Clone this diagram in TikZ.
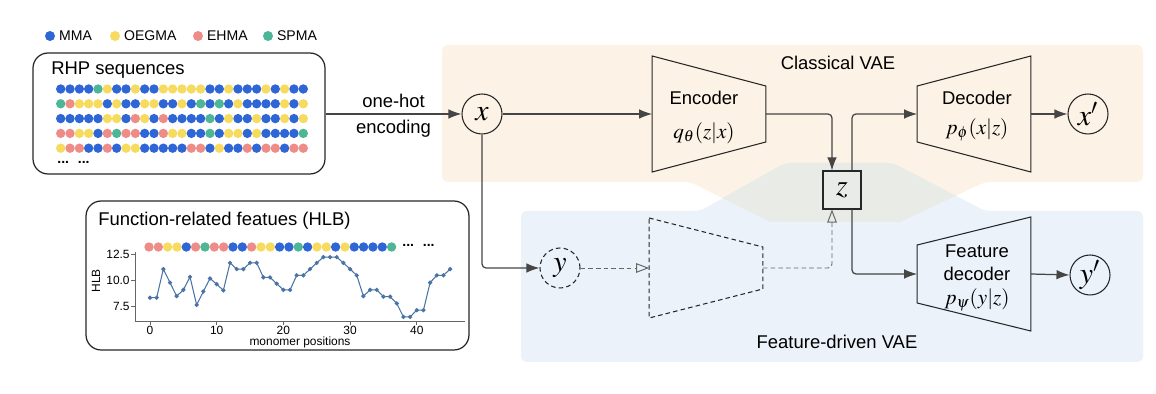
\documentclass[tikz,border=0pt]{standalone}
\usepackage{mathptmx}
\usepackage[no-math]{fontspec}
\setmainfont{Liberation Sans}
\usetikzlibrary{arrows.meta,positioning,shapes.geometric,calc}
\definecolor{monoblue}{HTML}{2F66D5}
\definecolor{monoyellow}{HTML}{F6DB5E}
\definecolor{monopink}{HTML}{EE8D87}
\definecolor{monogreen}{HTML}{4DB697}
\definecolor{vaeorange}{HTML}{FCF2E5}
\definecolor{vaeblue}{HTML}{EBF2FA}
\definecolor{vaeboth}{HTML}{E9EBE7}
\definecolor{linegray}{HTML}{454545}
\definecolor{hlbline}{HTML}{4A74A6}
\colorlet{mB}{monoblue}
\colorlet{mY}{monoyellow}
\colorlet{mE}{monopink}
\colorlet{mG}{monogreen}
\newcommand{\mainfs}{\fontsize{10.5}{12.6}\selectfont}
\newcommand{\legfs}{\fontsize{8}{9.6}\selectfont}
\newcommand{\plotfs}{\fontsize{6.8}{8}\selectfont}
\newcommand{\fnfs}{\fontsize{12}{14}\selectfont}
\newcommand{\bigmath}{\fontsize{17}{20}\selectfont}
\newcommand{\monorow}[3]{\foreach \mcol [count=\i from 0] in {#3} \fill[m\mcol] ({#1+9.33*\i},#2) circle (4.7);}
\newcommand{\trapez}[4][]{\draw[trapline,#1] ($(#2.west)+(0,-#3)$) -- ($(#2.east)+(0,-#4)$) -- ($(#2.east)+(0,#4)$) -- ($(#2.west)+(0,#3)$) -- cycle;}

\begin{document}
\begin{tikzpicture}[x=0.02cm,y=-0.02cm,
    conn/.style={draw=linegray, line width=0.7pt, rounded corners=0.08cm, -{Latex[length=0.26cm,width=0.19cm]}},
    dconn/.style={conn, draw=black!60, line width=0.55pt, dash pattern=on 2.6pt off 1.8pt, -{Triangle[open,length=0.26cm,width=0.19cm]}},
    var/.style={circle, draw=black!85, line width=0.6pt, minimum size=0.8cm, inner sep=0pt, font=\bigmath},
    trapbox/.style={minimum width=2.26cm, minimum height=0pt, inner sep=0pt},
    trapline/.style={draw=black!85, line width=0.6pt},
    panel/.style={draw=black!85, line width=0.7pt, rounded corners=0.3cm, inner sep=0pt},
    axisgray/.style={draw=black!60, line width=0.4pt}]
  \useasboundingbox (0,0) rectangle (1156,394);

  % VAE regions
  \fill[vaeorange, rounded corners=0.12cm] (442,45) -- (1143,45) -- (1143,182) -- (985,182) -- (900,222) -- (770,222) -- (690,182) -- (442,182) -- cycle;
  \fill[vaeblue, rounded corners=0.12cm] (521,211) -- (700,211) -- (785,163) -- (893,163) -- (985,211) -- (1143,211) -- (1143,362) -- (521,362) -- cycle;
  \begin{scope}
    \clip (442,45) -- (1143,45) -- (1143,182) -- (985,182) -- (900,222) -- (770,222) -- (690,182) -- (442,182) -- cycle;
    \fill[vaeboth, rounded corners=0.12cm] (521,211) -- (700,211) -- (785,163) -- (893,163) -- (985,211) -- (1143,211) -- (1143,362) -- (521,362) -- cycle;
  \end{scope}
  \node[font=\mainfs] (classlab) at (838,63) {Classical VAE};
  \node[font=\mainfs] (featlab) at (837,342) {Feature-driven VAE};

  % legend
  \foreach \mono/\col/\xx in {MMA/monoblue/50,OEGMA/monoyellow/115,EHMA/monopink/198,SPMA/monogreen/268}{
    \fill[\col] (\xx,36) circle (5);
    \node[anchor=west, inner sep=1pt, font=\legfs] (leg\mono) at (\xx+7,36) {\mono};
  }

  % RHP sequences
  \node[panel, minimum width=5.84cm, minimum height=2.42cm] (rhp) at (179,113.5) {};
  \node[anchor=west, inner sep=0pt, font=\mainfs] (rhptitle) at (51,70) {RHP sequences};
  \monorow{60.7}{89}{B,B,B,B,G,Y,B,B,Y,B,B,Y,Y,Y,Y,Y,B,B,Y,B,B,B,Y,B,Y,B,B}
  \monorow{60.7}{103.8}{G,E,Y,Y,Y,B,Y,B,B,Y,Y,B,B,Y,B,G,B,G,B,Y,B,B,B,B,Y,B,Y}
  \monorow{60.7}{118.6}{B,B,B,B,B,Y,Y,B,E,Y,B,E,B,B,B,B,G,B,Y,B,B,Y,B,B,Y,B,Y}
  \monorow{60.7}{133.4}{E,E,Y,Y,B,E,G,E,E,B,B,E,Y,Y,B,B,G,B,Y,Y,B,Y,B,B,B,B,G}
  \monorow{60.7}{148.2}{Y,E,E,B,B,E,B,Y,Y,B,B,B,B,B,E,E,B,Y,B,B,E,B,E,E,B,E,E}
  \node[anchor=west, inner sep=0pt, font=\legfs\bfseries] (rhpdots) at (57,162) {...\hspace{5pt}...};

  % HLB panel
  \node[panel, minimum width=7.66cm, minimum height=2.98cm] (hlb) at (277.5,275.5) {};
  \node[anchor=west, inner sep=0pt, font=\mainfs] (hlbtitle) at (98,221) {Function-related featues (HLB)};
  \monorow{149}{247}{E,E,Y,Y,B,E,G,E,E,B,B,E,Y,Y,B,B,G,B,Y,Y,B,Y,B,B,B,B,G}
  \node[anchor=west, inner sep=0pt, font=\legfs\bfseries] (hlbdots) at (402,245) {...\hspace{5pt}...};
  \begin{scope}[shift={(150,384)},x=0.1334cm,y=0.208cm]
    \draw[axisgray] (-2.25,6.06) -- (47.2,6.06);
    \draw[axisgray] (-2.25,6.06) -- (-2.25,12.65);
    \foreach \v in {7.5,10.0,12.5}{
      \draw[axisgray] (-2.25,\v) -- ++(-2.5pt,0);
      \node[anchor=east, inner sep=0pt, font=\plotfs] at (-3,\v) {\v};
    }
    \foreach \t in {0,10,...,40}{
      \draw[axisgray] (\t,6.06) -- ++(0,-2pt);
      \node[anchor=north, inner sep=0pt, font=\plotfs] at (\t,5.6) {\t};
    }
    \draw[hlbline, line width=0.6pt] plot[mark=*, mark size=0.9pt, mark options={fill=hlbline}] coordinates {
      (0,8.3) (1,8.3) (2,11.05) (3,9.75) (4,8.45) (5,9.05) (6,10.3) (7,7.6) (8,8.9) (9,10.15)
      (10,9.6) (11,9.0) (12,11.65) (13,11.05) (14,11.05) (15,11.65) (16,11.65) (17,10.25) (18,10.25) (19,9.65)
      (20,9.05) (21,9.05) (22,10.45) (23,10.45) (24,11.05) (25,11.65) (26,12.2) (27,12.2) (28,12.2) (29,11.65)
      (30,11.05) (31,10.45) (32,8.45) (33,9.05) (34,9.05) (35,8.4) (36,8.4) (37,7.75) (38,6.45) (39,6.45)
      (40,7.1) (41,7.1) (42,9.75) (43,10.45) (44,10.45) (45,11.05)};
  \end{scope}
  \node[rotate=90, font=\plotfs] (hlbaxis) at (96,281) {HLB};
  \node[font=\plotfs] (monoaxis) at (300,342) {monomer positions};

  % variables and networks
  \node[var] (x) at (482,114) {$x$};
  \node[var, dash pattern=on 2.6pt off 1.8pt] (y) at (560,268) {$y$};
  \node[var] (xp) at (1088,114) {$x'$};
  \node[var] (yp) at (1090,275) {$y'$};
  \node[draw=black!85, line width=0.6pt, minimum size=0.76cm, inner sep=0pt, font=\bigmath] (z) at (842,190) {$z$};

  \node[trapbox] (enc) at (709,114) {};
  \node[trapbox] (dec) at (974,114) {};
  \node[trapbox] (fdec) at (974,274) {};
  \node[trapbox] (denc) at (706,268) {};
  \trapez{enc}{58}{28}
  \trapez{dec}{28}{58}
  \trapez{fdec}{29}{57}
  \trapez[dash pattern=on 2.6pt off 1.8pt]{denc}{50}{21}

  \node[font=\mainfs] (enclab) at (704,98) {Encoder};
  \node[font=\fnfs] (encfn) at (704,133) {$q_\theta(z|x)$};
  \node[font=\mainfs] (declab) at (977,98) {Decoder};
  \node[font=\fnfs] (decfn) at (977,130) {$p_\phi(x|z)$};
  \node[font=\mainfs] (fdeclab) at (977,251) {Feature};
  \node[font=\mainfs] (fdeclabb) at (977,274) {decoder};
  \node[font=\fnfs] (fdecfn) at (977,300) {$p_\psi(y|z)$};

  % connectors
  \draw[conn] (rhp.east |- x) -- node[above, font=\mainfs] (onehot) {one-hot} node[below, font=\mainfs] (encoding) {encoding} (x.west);
  \draw[conn] (x.east) -- (enc.west);
  \draw[conn] (enc.east) -| ($(z.north)+(-10,0)$);
  \draw[conn] ($(z.north)+(10,0)$) |- (dec.west);
  \draw[conn] (dec.east) -- (xp.west);
  \draw[conn] ($(z.south)+(10,0)$) |- (fdec.west);
  \draw[conn] (fdec.east) -- (yp.west);
  \draw[conn] (x.south) |- (y.west);
  \draw[dconn] (y.east) -- (denc.west);
  \draw[dconn] (denc.east) -| ($(z.south)+(-10,0)$);
\end{tikzpicture}
\end{document}
